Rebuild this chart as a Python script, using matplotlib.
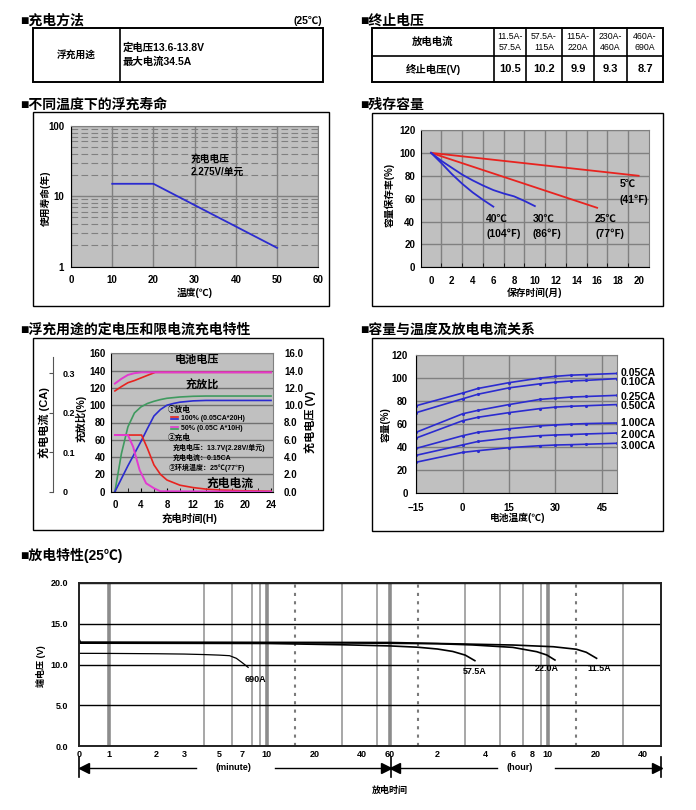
import numpy as np
import matplotlib.pyplot as plt
from matplotlib.patches import Rectangle
from matplotlib.lines import Line2D
from matplotlib.ticker import NullFormatter

plt.rcParams['font.family'] = ['Liberation Sans', 'Noto Sans CJK SC']
plt.rcParams['font.weight'] = 'bold'

W, H = 696, 810

# ---------------- data ----------------
chg_mode = '浮充用途'
chg_lines = ['定电压13.6-13.8V', '最大电流34.5A']

cut_currents = ['11.5A-\n57.5A', '57.5A-\n115A', '115A-\n220A', '230A-\n460A', '460A-\n690A']
cut_volts = ['10.5', '10.2', '9.9', '9.3', '8.7']

# float life vs temperature
life_temp = [10, 20, 50]
life_years = [15, 15, 1.85]

# residual capacity vs storage months
m_5c = [0, 20]
cap_5c = [100, 80]
m_25c = [0, 16]
cap_25c = [100, 52]
m_30c = [0, 1, 2, 3, 4, 5, 6, 7, 8, 9, 10]
cap_30c = [100, 93, 87, 81, 76, 71.5, 67.5, 64.5, 62, 58, 53.5]
m_40c = [0, 1, 2, 3, 4, 5, 6]
cap_40c = [100, 91, 81.5, 73, 65.5, 59, 53]

# charging characteristics (hours)
volt100_t = [0, 1, 2, 3, 4, 5, 6.2, 24]
volt100 = [116.5, 121.5, 126, 128.5, 131.5, 134.5, 138, 138]
volt50_t = [0, 1, 2, 3, 4.1, 24]
volt50 = [125, 130.5, 135, 137, 138, 138]
ratio100_t = [0, 1, 2, 3, 4, 5, 6, 7, 8, 9, 10, 12, 14, 24]
ratio100 = [0, 15, 30, 44, 58, 73, 87.5, 95, 100, 102, 103.5, 105, 105.5, 105.5]
ratio50_t = [0, 1, 2, 3, 4, 5, 6, 7, 8, 10, 12, 14, 24]
ratio50 = [0, 44, 75, 91, 98, 102, 104.5, 106.5, 108, 109.5, 110.3, 110.6, 110.6]
cur100_t = [0, 4.1, 5, 6, 7, 8, 10, 12, 14, 16, 20, 24]
cur100 = [65.5, 65.5, 50, 31, 20, 13.5, 7.5, 4.8, 3, 2, 1, 0.5]
cur50_t = [0, 2, 2.8, 3.8, 4.8, 6, 7, 24]
cur50 = [65.5, 65.5, 52, 25, 9.7, 4, 0.5, 0]

# capacity vs temperature and discharge current
cap_temp = [-15, 0, 5, 15, 25, 30, 35, 40, 50]
cap_rates = ['0.05CA', '0.10CA', '0.25CA', '0.50CA', '1.00CA', '2.00CA', '3.00CA']
cap_vals = [
    [76, 87, 91, 96, 100, 101.5, 102.5, 103, 104],
    [70, 82, 86, 91.5, 95, 96.5, 97.5, 98, 99.5],
    [53, 69, 72, 77, 81.5, 82.5, 83.5, 84, 85],
    [48, 63, 66, 70, 73.5, 74.8, 75.5, 76, 77],
    [39, 50, 53, 56, 58.5, 59.3, 60, 60.5, 61],
    [33, 42, 45, 48, 50, 50.6, 51, 51.5, 52.3],
    [27, 35.5, 37, 39.6, 41.3, 41.9, 42.2, 42.6, 43.4],
]

# discharge curves (minutes, volts)
t_690 = [0.646, 1, 2, 3, 4, 5, 5.8, 6.4, 7.0, 7.6]
v_690 = [11.37, 11.36, 11.32, 11.28, 11.22, 11.15, 11.08, 10.76, 10.2, 9.65]
t_575 = [0.646, 10, 30, 60, 90, 120, 150, 180, 207]
v_575 = [12.62, 12.58, 12.42, 12.28, 12.12, 11.9, 11.6, 11.15, 10.47]
t_220 = [0.646, 30, 120, 200, 360, 510, 590, 665]
v_220 = [12.68, 12.65, 12.55, 12.4, 12.1, 11.57, 11.17, 10.55]
t_115 = [0.646, 0.66, 60, 360, 650, 910, 1050, 1220]
v_115 = [13.1, 12.74, 12.7, 12.39, 12.18, 11.87, 11.5, 10.76]

dis_ticks = [0.646, 1, 2, 3, 5, 7, 10, 20, 40, 60, 120, 240, 360, 480, 600, 1200, 2400]
dis_labels = ['0', '1', '2', '3', '5', '7', '10', '20', '40', '60', '2', '4', '6', '8', '10', '20', '40']

# ---------------- helpers ----------------
fig = plt.figure(figsize=(W / 100, H / 100), dpi=100)


def add_ax(x0, y0, x1, y1):
    return fig.add_axes([x0 / W, 1 - y1 / H, (x1 - x0) / W, (y1 - y0) / H])


def ftext(x, y, s, **kw):
    kw.setdefault('ha', 'left')
    kw.setdefault('va', 'center')
    fig.text(x / W, 1 - y / H, s, **kw)


def fline(xs, ys, **kw):
    kw.setdefault('color', 'black')
    fig.add_artist(Line2D([x / W for x in xs], [1 - y / H for y in ys],
                          transform=fig.transFigure, **kw))


def fbox(x0, y0, x1, y1, lw=1.0):
    fig.add_artist(Rectangle((x0 / W, 1 - y1 / H), (x1 - x0) / W, (y1 - y0) / H,
                             transform=fig.transFigure, fill=False, ec='black', lw=lw))


def gray_style(ax, pad=5):
    ax.set_facecolor('#c0c0c0')
    for s in ['top', 'right']:
        ax.spines[s].set_color('#808080')
    for s in ['left', 'bottom']:
        ax.spines[s].set_color('black')
    ax.tick_params(labelsize=7, length=0, pad=pad)
    ax.set_axisbelow(True)


HEAD = 10

# ---------------- section 1: charge method ----------------
ftext(20, 21, '■充电方法', fontsize=HEAD)
ftext(322, 21, '(25℃)', fontsize=7.5, ha='right')
fbox(33, 28, 323, 82, lw=1.4)
fline([120, 120], [28, 82], lw=1.2)
ftext(76, 55, chg_mode, fontsize=7, ha='center')
ftext(123, 48, chg_lines[0], fontsize=7.5)
ftext(123, 62, chg_lines[1], fontsize=7.5)

# ---------------- section 2: cut-off voltage ----------------
ftext(360, 21, '■终止电压', fontsize=HEAD)
col_x = [372, 494, 526, 562, 594, 627, 663]
fbox(372, 28, 663, 82, lw=1.4)
fline([372, 663], [56, 56], lw=1.2)
for xc in col_x[1:-1]:
    fline([xc, xc], [28, 82], lw=1.2)
ftext(433, 42, '放电电流', fontsize=7.5, ha='center')
ftext(433, 69, '终止电压(V)', fontsize=7.5, ha='center')
for i, (lab, val) in enumerate(zip(cut_currents, cut_volts)):
    xm = (col_x[i + 1] + col_x[i + 2]) / 2
    ftext(xm, 42, lab, fontsize=6.3, ha='center', linespacing=1.15, weight='normal')
    ftext(xm, 69, val, fontsize=8, ha='center')

# ---------------- section 3: float life ----------------
ftext(20, 105, '■不同温度下的浮充寿命', fontsize=HEAD)
fbox(33, 112, 329, 306)
ax = add_ax(71, 125.7, 318.3, 266.7)
gray_style(ax)
ax.set_yscale('log')
ax.set_xlim(0, 60)
ax.set_ylim(1, 100)
ax.set_xticks(range(0, 61, 10))
ax.set_yticks([1, 10, 100])
ax.set_yticklabels(['1', '10', '100'])
ax.yaxis.set_minor_formatter(NullFormatter())
ax.tick_params(which='minor', length=0)
ax.tick_params(axis='x', pad=6)
ax.xaxis.grid(True, color='#808080', lw=1)
ax.yaxis.grid(True, which='major', color='#808080', lw=1)
ax.yaxis.grid(True, which='minor', color='#808080', lw=0.8, ls=(0, (6, 3)))
ax.plot(life_temp, life_years, color='#2b2bd0', lw=1.3)
ax.text(29, 40, '充电电压\n2.275V/单元', fontsize=7, va='top', linespacing=1.4)
ftext(195, 293, '温度(℃)', fontsize=7, ha='center')
ftext(46, 198, '使用寿命(年)', fontsize=7, ha='center', rotation=90)

# ---------------- section 4: residual capacity ----------------
ftext(360, 105, '■残存容量', fontsize=HEAD)
fbox(372, 113, 663, 306)
ax = add_ax(420.7, 130, 649, 267.3)
gray_style(ax, pad=4)
ax.set_xlim(-1, 21)
ax.set_ylim(0, 120)
ax.set_xticks(range(0, 21, 2))
ax.set_xticks(range(1, 20, 2), minor=True)
ax.set_yticks(range(0, 121, 20))
ax.tick_params(axis='x', pad=6)
ax.tick_params(which='minor', length=3, direction='in', color='black')
ax.xaxis.grid(True, which='minor', color='#808080', lw=1)
ax.yaxis.grid(True, color='#808080', lw=1)
red = '#e8231f'
blue = '#2b2bd0'
ax.plot(m_5c, cap_5c, color=red, lw=1.3)
ax.plot(m_25c, cap_25c, color=red, lw=1.3)
ax.plot(m_30c, cap_30c, color=blue, lw=1.3)
ax.plot(m_40c, cap_40c, color=blue, lw=1.3)
ax.text(18.2, 77, '5℃\n(41℉)', fontsize=7.5, va='top', linespacing=1.6)
ax.text(5.3, 47, '40℃\n(104℉)', fontsize=7.5, va='top', linespacing=1.6)
ax.text(9.8, 47, '30℃\n(86℉)', fontsize=7.5, va='top', linespacing=1.6)
ax.text(15.8, 47, '25℃\n(77℉)', fontsize=7.5, va='top', linespacing=1.6)
ftext(535, 293, '保存时间(月)', fontsize=7, ha='center')
ftext(389, 195, '容量保存率(%)', fontsize=7, ha='center', rotation=90)

# ---------------- section 5: charging characteristics ----------------
ftext(20, 330, '■浮充用途的定电压和限电流充电特性', fontsize=HEAD)
fbox(33, 338, 323, 530)
ax = add_ax(111, 353.3, 273, 491.7)
gray_style(ax, pad=5)
ax.set_xlim(-0.6, 24.3)
ax.set_ylim(0, 160)
ax.set_xticks(range(0, 25, 4))
ax.set_xticks(range(2, 25, 4), minor=True)
ax.set_yticks(range(0, 161, 20))
ax.tick_params(axis='x', pad=6, labelsize=7)
ax.tick_params(axis='y', labelsize=7, pad=4)
ax.tick_params(axis='x', which='both', length=3, direction='in', color='black')
ax.yaxis.grid(True, color='#707070', lw=1)
mag = '#e23ad0'
grn = '#3f9a5f'
ax.plot(volt100_t, volt100, color=red, lw=1.2)
ax.plot(volt50_t, volt50, color=mag, lw=1.4)
ax.plot(ratio50_t, ratio50, color=grn, lw=1.2)
ax.plot(ratio100_t, ratio100, color=blue, lw=1.2)
ax.plot(cur100_t, cur100, color=red, lw=1.2)
ax.plot(cur50_t, cur50, color=mag, lw=1.4)
ax.text(12.6, 152, '电池电压', fontsize=8, ha='center', va='center')
ax.text(13.4, 123, '充放比', fontsize=8, ha='center', va='center')
ax.text(17.7, 9, '充电电流', fontsize=8.5, ha='center', va='center')
ax.text(8.2, 94.5, '①放电', fontsize=5.5, va='center')
ax.plot([8.6, 9.7], [86.2, 86.2], color=red, lw=1.2)
ax.plot([8.6, 9.7], [84.6, 84.6], color=blue, lw=1.2)
ax.plot([8.6, 9.7], [74.6, 74.6], color=mag, lw=1.2)
ax.plot([8.6, 9.7], [73.0, 73.0], color=grn, lw=1.2)
ax.text(10.1, 85.2, '100% (0.05CA*20H)', fontsize=5, va='center')
ax.text(10.1, 73.6, '50% (0.05C A*10H)', fontsize=5, va='center')
ax.text(8.2, 62, '②充电', fontsize=5.5, va='center')
ax.text(8.9, 50.5, '充电电压：13.7V(2.28V/单元)', fontsize=5, va='center')
ax.text(8.9, 39, '充电电流：0.15CA', fontsize=5, va='center')
ax.text(8.2, 27.4, '③环境温度：25℃(77℉)', fontsize=5, va='center')

axr = ax.twinx()
axr.set_ylim(0, 16)
axr.set_yticks(range(0, 17, 2))
axr.set_yticklabels(['%.1f' % v for v in range(0, 17, 2)])
axr.tick_params(labelsize=7, length=0, pad=8)
for s in axr.spines.values():
    s.set_visible(False)

axc = add_ax(53, 353.3, 54, 491.7)
axc.patch.set_visible(False)
axc.set_ylim(0, 0.35)
axc.set_xticks([])
axc.set_yticks([0, 0.1, 0.2, 0.3])
axc.set_yticklabels(['0', '0.1', '0.2', '0.3'])
for s in ['top', 'right', 'bottom']:
    axc.spines[s].set_visible(False)
axc.spines['left'].set_bounds(0, 0.34)
axc.spines['left'].set_color('#555555')
axc.tick_params(axis='y', labelleft=False, labelright=True, left=True, right=False,
                length=3, labelsize=6.5, pad=3, color='#555555')

ftext(190, 518, '充电时间(H)', fontsize=7.5, ha='center')
ftext(81.5, 418, '充放比(%)', fontsize=7.5, ha='center', rotation=90)
ftext(44, 423, '充电电流 (CA)', fontsize=8, ha='center', rotation=90)
ftext(310, 422, '充电电压 (V)', fontsize=8, ha='center', rotation=90)

# ---------------- section 6: capacity vs temperature ----------------
ftext(360, 330, '■容量与温度及放电电流关系', fontsize=HEAD)
fbox(372, 338, 663, 531)
ax = add_ax(416.3, 355, 617.3, 493.3)
gray_style(ax, pad=6)
ax.set_xlim(-15, 50)
ax.set_ylim(0, 120)
ax.set_xticks([-15, 0, 15, 30, 45])
ax.set_yticks(range(0, 121, 20))
ax.tick_params(axis='x', pad=7)
ax.grid(True, color='#808080', lw=1)
for rate, vals in zip(cap_rates, cap_vals):
    ax.plot(cap_temp, vals, color=blue, lw=1.2, marker='.', ms=2.5)
lab_y = [373.3, 382.3, 397, 405.7, 423, 435, 446]
for rate, yy in zip(cap_rates, lab_y):
    ftext(620.5, yy, rate, fontsize=7.5)
ftext(518, 518, '电池温度(℃)', fontsize=7, ha='center')
ftext(386, 425, '容量(%)', fontsize=7, ha='center', rotation=90)

# ---------------- section 7: discharge characteristics ----------------
ftext(20, 555, '■放电特性(25℃)', fontsize=HEAD)
ax = add_ax(79, 583, 661, 746)
ax.set_xscale('log')
ax.set_xlim(0.646, 3120)
ax.set_ylim(0, 20)
minor_grid = [2, 3, 4, 5, 6, 7, 8, 9, 20, 30, 40, 50, 120, 180, 240, 300, 360,
              420, 480, 540, 1200, 1800, 2400]
ax.set_xticks(dis_ticks)
ax.set_xticklabels(dis_labels)
ax.set_xticks(minor_grid, minor=True)
ax.xaxis.set_minor_formatter(NullFormatter())
ax.set_yticks(range(0, 21, 5))
ax.set_yticklabels(['%.1f' % v for v in range(0, 21, 5)])
ax.tick_params(which='both', length=0, labelsize=6.5)
ax.tick_params(axis='x', pad=3)
ax.tick_params(axis='y', pad=8)
ax.xaxis.grid(True, which='minor', color='#a0a0a0', lw=1.3)
ax.yaxis.grid(True, color='black', lw=1)
for xv in [1, 10, 60, 600]:
    ax.axvline(xv, color='#8c8c8c', lw=2.6, zorder=1)
for xv in [15, 90, 900]:
    ax.axvline(xv, color='#7a7a7a', lw=1.5, ls=(0, (1.5, 2.5)), zorder=1)
for s in ax.spines.values():
    s.set_color('#222222')
    s.set_linewidth(1.4)
ax.plot(t_690, v_690, color='black', lw=0.9)
ax.plot(t_575, v_575, color='black', lw=1.2)
ax.plot(t_220, v_220, color='black', lw=1.2)
ax.plot(t_115, v_115, color='black', lw=1.2)
ax.text(8.4, 8.1, '690A', fontsize=6.5, ha='center', va='center')
ax.text(207, 9.08, '57.5A', fontsize=6.5, ha='center', va='center')
ax.text(590, 9.57, '22.0A', fontsize=6.5, ha='center', va='center')
ax.text(1262, 9.57, '11.5A', fontsize=6.5, ha='center', va='center')
ftext(41, 666, '端电压 (V)', fontsize=6.5, ha='center', rotation=90)

# time-range arrows under the axis
ya = 768
fline([79, 79], [757, 777], lw=1.2)
fline([80, 196], [ya, ya], lw=1.0)
fline([84], [ya], marker='<', ms=7, mfc='black', mec='black', lw=0)
ftext(233, ya, '(minute)', fontsize=6.5, ha='center')
fline([275, 388], [ya, ya], lw=1.0)
fline([386], [ya], marker='>', ms=7, mfc='black', mec='black', lw=0)
fline([390.5, 390.5], [757, 777], lw=1.2)
fline([395], [ya], marker='<', ms=7, mfc='black', mec='black', lw=0)
fline([392, 497], [ya, ya], lw=1.0)
ftext(520, ya, '(hour)', fontsize=6.5, ha='center')
fline([555, 660], [ya, ya], lw=1.0)
fline([657], [ya], marker='>', ms=7, mfc='black', mec='black', lw=0)
fline([661, 661], [757, 777], lw=1.2)
ftext(390, 790, '放电时间', fontsize=6.5, ha='center')

fig.savefig('out.png', dpi=100)
